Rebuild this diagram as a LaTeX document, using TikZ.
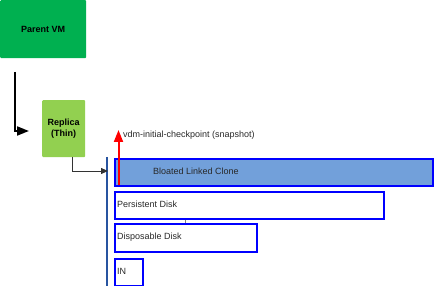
\documentclass[tikz,border=0pt]{standalone}
\usepackage{fontspec}
\setmainfont{Liberation Sans}
\usetikzlibrary{arrows.meta,calc}
\definecolor{pgreen}{RGB}{0,176,80}
\definecolor{rgreen}{RGB}{146,208,80}
\definecolor{clonefill}{RGB}{114,160,218}
\definecolor{boxblue}{RGB}{0,0,255}
\definecolor{barblue}{RGB}{40,84,160}
\definecolor{txt}{RGB}{40,40,40}
\tikzset{
  vmbox/.style={draw=none,rounded corners=1pt,inner sep=0pt,anchor=north west,align=center,font=\fontsize{9}{11}\selectfont\bfseries},
  diskbox/.style={draw=boxblue,line width=2pt,inner sep=0pt,anchor=north west},
  lbl/.style={font=\fontsize{9}{11}\selectfont,text=txt,inner sep=0pt,anchor=west},
}
\begin{document}
\begin{tikzpicture}[x=1pt,y=-1pt]
\useasboundingbox (0,0) rectangle (434,286);
% VM boxes
\node[vmbox,fill=pgreen,minimum width=86pt,minimum height=58pt] (parent) at (0,0) {Parent VM};
\node[vmbox,fill=rgreen,minimum width=43pt,minimum height=57pt] (replica) at (42,100) {Replica\\(Thin)};
% disk boxes
\node[diskbox,fill=clonefill,minimum width=318pt,minimum height=27pt] (blc) at (114,158) {};
\node[diskbox,fill=white,minimum width=269pt,minimum height=27pt] (pers) at (114,191) {};
\node[diskbox,fill=white,minimum width=142pt,minimum height=28pt] (disp) at (114,223) {};
\node[diskbox,fill=white,minimum width=28pt,minimum height=27pt] (in) at (114,258) {};
% labels
\node[lbl] (blct) at (153,171) {Bloated Linked Clone};
\node[lbl] (perst) at (117,204.5) {Persistent Disk};
\node[lbl] (dispt) at (117,237) {Disposable Disk};
\node[lbl] (int) at (117,271) {IN};
\node[lbl] (snap) at (123,135) {vdm-initial-checkpoint (snapshot)};
% blue bar
\coordinate (bartop) at (107,157);
\coordinate (barbot) at (107,286);
\draw[barblue,line width=1.8pt] (bartop) -- (barbot);
% tick between disks
\draw[gray,line width=0.6pt] (pers.south -| 185,0) -- (disp.north -| 185,0);
% parent -> replica arrow
\coordinate (p1) at (15,72);
\coordinate (p2) at (29,131);
\draw[black,line width=1.8pt,-{Triangle[length=12pt,width=9pt]}] (p1) |- (p2);
% replica -> clone
\coordinate (r1) at (72,157);
\coordinate (r2) at (108,171);
\draw[black!80,line width=0.8pt,-{Triangle[length=7pt,width=6pt]}] (r1) |- (r2);
% red snapshot arrow
\coordinate (s1) at (118.5,185);
\coordinate (s2) at (118.5,130);
\draw[red,line width=2pt,-{Triangle[length=12pt,width=9pt]}] (s1) -- (s2);
\end{tikzpicture}
\end{document}
